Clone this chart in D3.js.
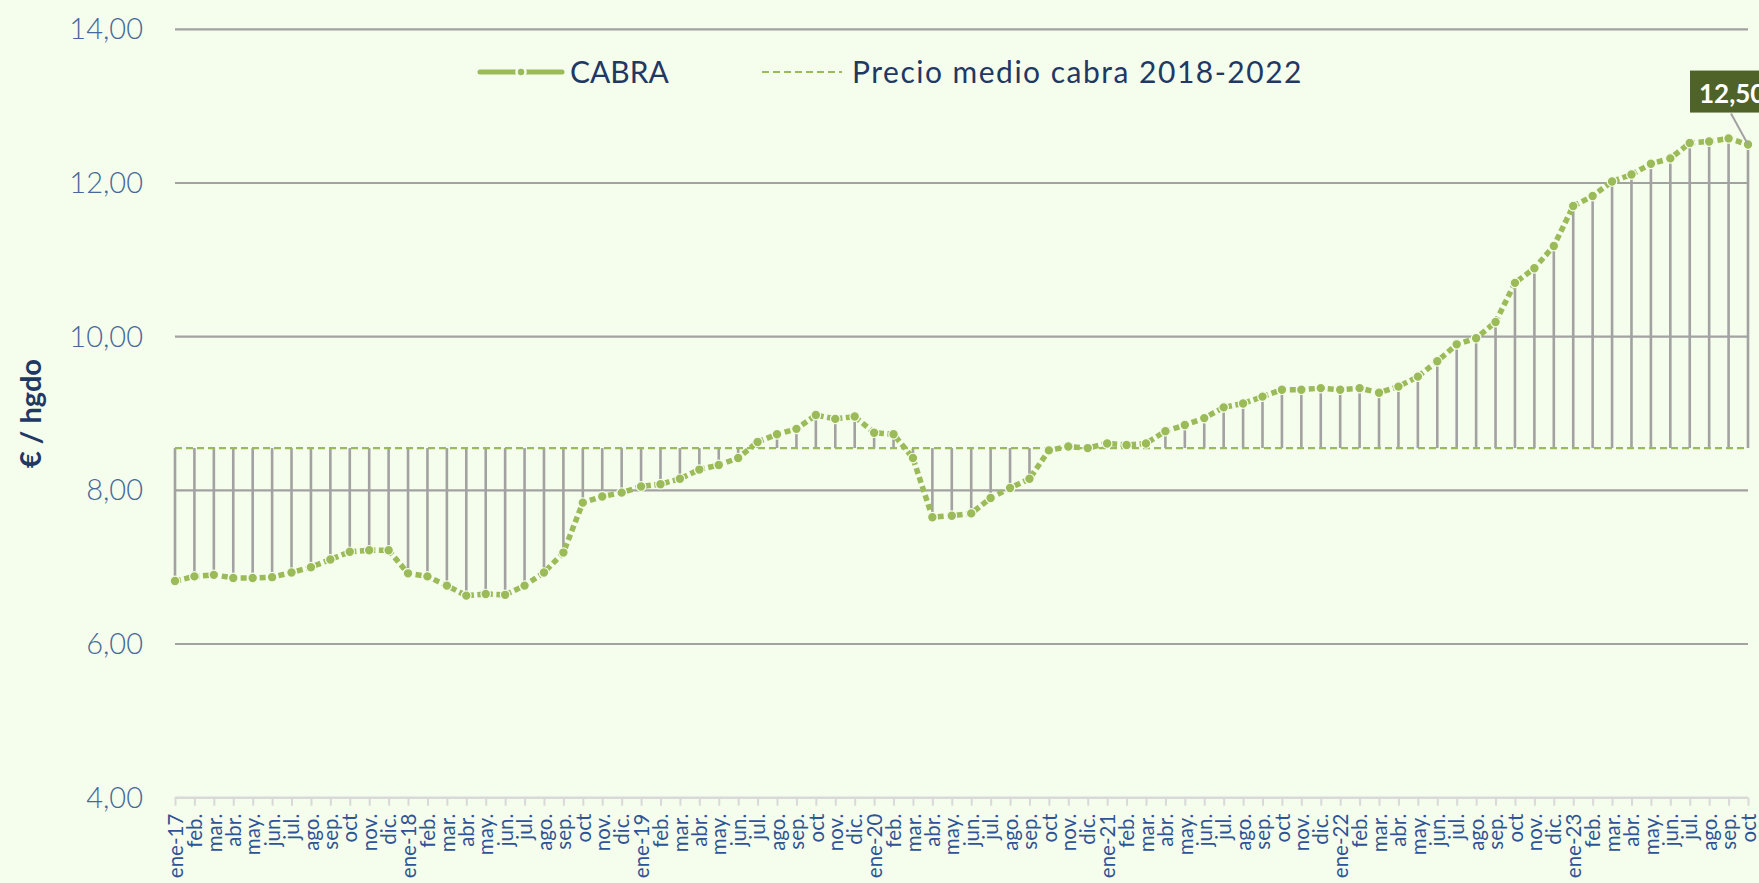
<!DOCTYPE html>
<html>
<head>
<meta charset="utf-8">
<script src="https://cdn.jsdelivr.net/npm/d3@7/dist/d3.min.js"></script>
<style>
  html, body { margin: 0; padding: 0; background: #f5fdec; }
  svg { display: block; font-family: Lato, "Open Sans", sans-serif; }
</style>
</head>
<body>
<svg id="chart" width="1759" height="883"></svg>
<script>
// month labels, as printed under the axis
var monthNames = ["feb.", "mar.", "abr.", "may.", "jun.", "jul.", "ago.", "sep.", "oct", "nov.", "dic."];
var years = ["17", "18", "19", "20", "21", "22", "23"];

var labels = [];
years.forEach(function(y) {
  labels.push("ene-" + y);
  monthNames.forEach(function(m) { labels.push(m); });
});
labels = labels.slice(0, 82); // series stops at oct-23

// €/hgdo
var cabra = [
  6.82, 6.88, 6.90, 6.86, 6.86, 6.87, 6.93, 7.00, 7.10, 7.20, 7.22, 7.22,
  6.92, 6.88, 6.76, 6.63, 6.65, 6.64, 6.76, 6.93, 7.19, 7.84, 7.92, 7.97,
  8.05, 8.08, 8.15, 8.27, 8.33, 8.42, 8.63, 8.73, 8.80, 8.98, 8.93, 8.96,
  8.75, 8.73, 8.42, 7.65, 7.67, 7.70, 7.90, 8.03, 8.15, 8.52, 8.57, 8.55,
  8.61, 8.59, 8.61, 8.77, 8.85, 8.94, 9.08, 9.13, 9.22, 9.31, 9.31, 9.33,
  9.31, 9.33, 9.27, 9.35, 9.48, 9.68, 9.90, 9.98, 10.19, 10.70, 10.89, 11.18,
  11.70, 11.83, 12.02, 12.11, 12.25, 12.32, 12.52, 12.54, 12.58, 12.50
];
var precioMedio = 8.55; // media 2018-2022

var yTicks = [4, 6, 8, 10, 12, 14];
var legendNames = ["CABRA", "Precio medio cabra 2018-2022"];

var green = "#9bbb59", grey = "#a2a2a2", navy = "#1f3864", bg = "#f5fdec";

var svg = d3.select("#chart");

var x = d3.scalePoint().domain(d3.range(cabra.length)).range([175, 1748]);
var y = d3.scaleLinear().domain([4, 14]).range([797.7, 29.3]);

var fmt = function(v) { return d3.format(".2f")(v).replace(".", ","); };

// gridlines (4,00 is covered by the axis line)
svg.append("g")
  .selectAll("line")
  .data(yTicks.filter(function(t) { return t > 4; }))
  .enter().append("line")
  .attr("x1", x(0)).attr("x2", x(cabra.length - 1))
  .attr("y1", function(d) { return y(d); })
  .attr("y2", function(d) { return y(d); })
  .attr("stroke", grey).attr("stroke-width", 2.2);

// y labels
svg.append("g")
  .selectAll("text")
  .data(yTicks)
  .enter().append("text")
  .attr("x", 143)
  .attr("y", function(d) { return y(d); })
  .attr("dy", "0.35em")
  .attr("text-anchor", "end")
  .attr("font-size", 29).attr("font-weight", 300)
  .attr("fill", "#46699a")
  .text(fmt);

// axis title
svg.append("text")
  .attr("transform", "translate(31," + y(9) + ") rotate(-90)")
  .attr("dy", "0.35em")
  .attr("text-anchor", "middle")
  .attr("font-size", 29).attr("font-weight", "bold")
  .attr("fill", navy)
  .text("€ / hgdo");

// x axis
var xAxis = d3.axisBottom(x)
  .tickSize(8)
  .tickFormat(function(i) { return labels[i]; });

var ax = svg.append("g")
  .attr("transform", "translate(0," + y(4) + ")")
  .call(xAxis);
ax.select(".domain").attr("stroke", "#d9d9d9").attr("stroke-width", 2.5)
  .attr("d", "M" + x(0) + ",0H" + x(cabra.length - 1));
ax.selectAll(".tick line").attr("stroke", "#d9d9d9").attr("stroke-width", 2);
ax.selectAll(".tick text")
  .attr("font-family", "Lato, sans-serif")
  .attr("font-size", 20.5)
  .attr("fill", "#2f5496")
  .attr("text-anchor", "end")
  .attr("y", 0).attr("dy", "0.35em")
  .attr("transform", "translate(0,16) rotate(-90)");

// high-low lines between the series and the average
svg.append("g")
  .selectAll("line")
  .data(cabra)
  .enter().append("line")
  .attr("x1", function(d, i) { return x(i); })
  .attr("x2", function(d, i) { return x(i); })
  .attr("y1", y(precioMedio))
  .attr("y2", function(d) { return y(d); })
  .attr("stroke", grey).attr("stroke-width", 2.6);

// average line
svg.append("line")
  .attr("x1", x(0)).attr("x2", x(cabra.length - 1))
  .attr("y1", y(precioMedio)).attr("y2", y(precioMedio))
  .attr("stroke", green).attr("stroke-width", 2.2)
  .attr("stroke-dasharray", "7 4");

// CABRA line
var line = d3.line()
  .x(function(d, i) { return x(i); })
  .y(function(d) { return y(d); });

svg.append("path")
  .datum(cabra)
  .attr("d", line)
  .attr("fill", "none")
  .attr("stroke", green).attr("stroke-width", 5.5)
  .attr("stroke-dasharray", "6 3.5");

svg.append("g")
  .selectAll("circle")
  .data(cabra)
  .enter().append("circle")
  .attr("cx", function(d, i) { return x(i); })
  .attr("cy", function(d) { return y(d); })
  .attr("r", 4.8)
  .attr("fill", green)
  .attr("stroke", bg).attr("stroke-width", 1.2);

// data label on the last value
var last = cabra.length - 1;
var lx = x(last), ly = y(cabra[last]);
svg.append("line")
  .attr("x1", lx).attr("y1", ly)
  .attr("x2", lx - 17).attr("y2", ly - 31)
  .attr("stroke", grey).attr("stroke-width", 2);
svg.append("rect")
  .attr("x", lx - 58).attr("y", ly - 74)
  .attr("width", 90).attr("height", 42)
  .attr("fill", "#4f6228");
svg.append("text")
  .attr("x", lx - 49).attr("y", ly - 42)
  .attr("font-size", 26).attr("font-weight", "bold")
  .attr("fill", "#ffffff")
  .text(fmt(cabra[last]));

// legend
var lg = svg.append("g");
lg.append("line")
  .attr("x1", 480).attr("x2", 562).attr("y1", 72).attr("y2", 72)
  .attr("stroke", green).attr("stroke-width", 5).attr("stroke-linecap", "round");
lg.append("circle")
  .attr("cx", 521).attr("cy", 72).attr("r", 4.5)
  .attr("fill", green).attr("stroke", bg).attr("stroke-width", 2.5);
lg.append("text")
  .attr("x", 570).attr("y", 72).attr("dy", "0.35em")
  .attr("font-size", 30).attr("fill", navy)
  .text(legendNames[0]);
lg.append("line")
  .attr("x1", 762).attr("x2", 842).attr("y1", 72).attr("y2", 72)
  .attr("stroke", green).attr("stroke-width", 2)
  .attr("stroke-dasharray", "7 4");
lg.append("text")
  .attr("x", 852).attr("y", 72).attr("dy", "0.35em")
  .attr("font-size", 30).attr("letter-spacing", 1.5).attr("fill", navy)
  .text(legendNames[1]);
</script>
</body>
</html>
